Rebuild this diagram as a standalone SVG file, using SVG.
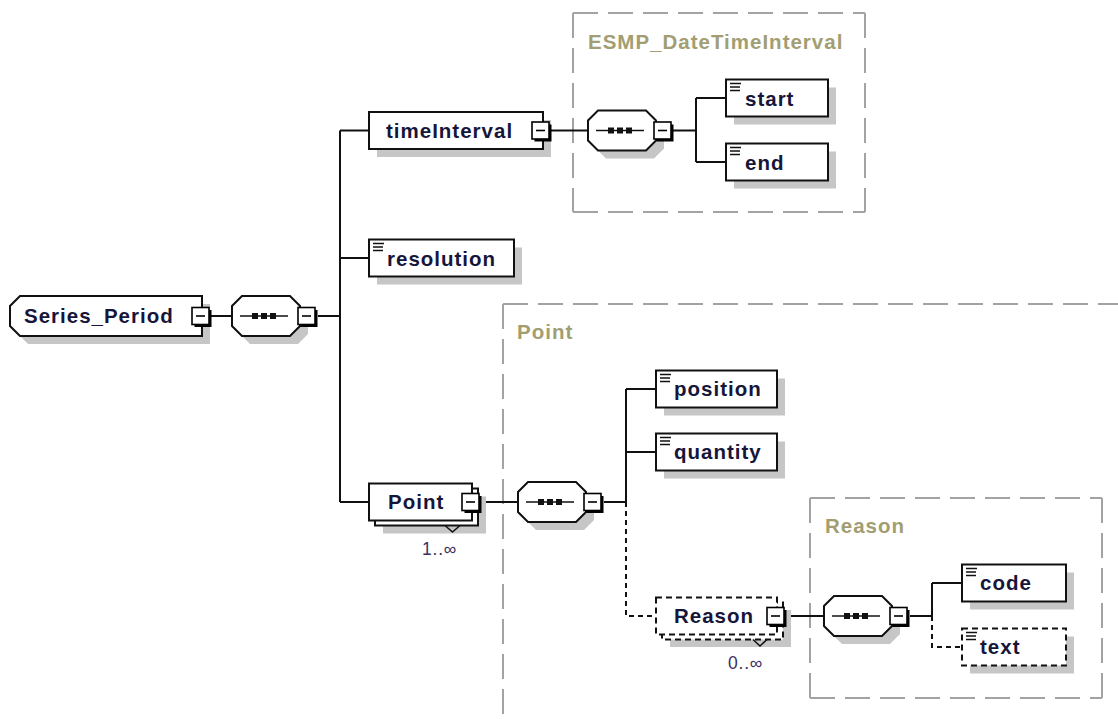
<svg xmlns="http://www.w3.org/2000/svg" width="1118" height="719" viewBox="0 0 1118 719">
<style>
 text{font-family:"Liberation Sans",Arial,Helvetica,sans-serif}
 .nm{font-size:20.5px;font-weight:bold;letter-spacing:1px;fill:#16163a}
 .ttl{font-size:20.5px;font-weight:bold;letter-spacing:1px;fill:#a29e72}
 .occ{font-size:17.5px;letter-spacing:0.8px;fill:#3b3062}
 .bx{fill:#fff;stroke:#111;stroke-width:2}
 .dsh{stroke-dasharray:6 4}
 .sh{fill:#c6c6c6}
 .w{fill:none;stroke:#111;stroke-width:2}
 .wd{fill:none;stroke:#111;stroke-width:2;stroke-dasharray:5 4}
 .frm{fill:none;stroke:#a3a3a3;stroke-width:2;stroke-dasharray:25 10}
 .ico{fill:none;stroke:#111;stroke-width:1.6}
 .notch{fill:none;stroke:#111;stroke-width:1.5}
</style>
<defs>
 <!-- collapse (minus) button -->
 <g id="minus">
  <rect x="2.5" y="2.5" width="17" height="17" fill="#000"/>
  <rect x="0" y="0" width="17" height="17" fill="#fff" stroke="#000" stroke-width="1.6"/>
  <line x1="4" y1="8.5" x2="13" y2="8.5" stroke="#000" stroke-width="1.6"/>
 </g>
 <!-- sequence compositor -->
 <g id="seq">
  <polygon class="sh" points="18,8 66,8 76,18 76,38 66,48 18,48 8,38 8,18"/>
  <polygon class="bx" points="10,0 58,0 68,10 68,30 58,40 10,40 0,30 0,10"/>
  <line x1="8" y1="20" x2="56" y2="20" stroke="#111" stroke-width="1.6"/>
  <rect x="20" y="17" width="6" height="6" fill="#111"/>
  <rect x="29" y="17" width="6" height="6" fill="#111"/>
  <rect x="38" y="17" width="6" height="6" fill="#111"/>
  <use href="#minus" x="66" y="11.5"/>
 </g>
 <!-- simple-content marker -->
 <path id="ico" class="ico" d="M4,4H15M4,7.5H14M4,11H14"/>
</defs>

<!-- type frames -->
<g id="frames">
 <line class="frm" x1="573" y1="13" x2="865" y2="13"/>
 <line class="frm" x1="865" y1="13" x2="865" y2="212"/>
 <line class="frm" x1="573" y1="212" x2="865" y2="212"/>
 <line class="frm" x1="573" y1="13" x2="573" y2="212"/>
 <text class="ttl" x="588" y="49">ESMP_DateTimeInterval</text>

 <line class="frm" x1="503" y1="304" x2="1118" y2="304"/>
 <line class="frm" x1="503" y1="304" x2="503" y2="719"/>
 <text class="ttl" x="517" y="339">Point</text>

 <line class="frm" x1="810" y1="498" x2="1102" y2="498"/>
 <line class="frm" x1="1102" y1="498" x2="1102" y2="698"/>
 <line class="frm" x1="810" y1="698" x2="1102" y2="698"/>
 <line class="frm" x1="810" y1="498" x2="810" y2="698"/>
 <text class="ttl" x="825" y="533">Reason</text>
</g>

<!-- connectors -->
<g id="connectors">
 <path class="w" d="M211,316H232M318,316H340M340,130.5V502M340,130.5H369M340,258H369M340,502H369"/>
 <path class="w" d="M551,130.5H588M673,130.5H696M696,98V162M696,98H726M696,162H726"/>
 <path class="w" d="M481,502H518M604,502H626M626,389V502M626,389H656M626,452H656"/>
 <path class="wd" d="M626,502V616H656"/>
 <path class="w" d="M786,616H824M910,616H932M932,583V616M932,583H962"/>
 <path class="wd" d="M932,616V647H962"/>
</g>

<!-- nodes -->
<g id="node-series-period">
 <polygon class="sh" points="28,304 210,304 210,344 28,344 18,334 18,314"/>
 <polygon class="bx" points="20,296 202,296 202,336 20,336 10,326 10,306"/>
 <text class="nm" x="24" y="323">Series_Period</text>
 <use href="#minus" x="192" y="307.5"/>
</g>
<g id="seq-series-period"><use href="#seq" x="232" y="296"/></g>

<g id="node-timeInterval">
 <rect class="sh" x="377" y="120" width="174" height="37"/>
 <rect class="bx" x="369" y="112" width="174" height="37"/>
 <text class="nm" x="386" y="138">timeInterval</text>
 <use href="#minus" x="532" y="122"/>
</g>
<g id="seq-timeInterval"><use href="#seq" x="588" y="110.5"/></g>

<g id="node-start">
 <rect class="sh" x="734" y="87.5" width="102" height="37"/>
 <rect class="bx" x="726" y="79.5" width="102" height="37"/>
 <use href="#ico" x="726" y="79.5"/>
 <text class="nm" x="745" y="105.5">start</text>
</g>
<g id="node-end">
 <rect class="sh" x="734" y="151.5" width="102" height="37"/>
 <rect class="bx" x="726" y="143.5" width="102" height="37"/>
 <use href="#ico" x="726" y="143.5"/>
 <text class="nm" x="745" y="169.5">end</text>
</g>

<g id="node-resolution">
 <rect class="sh" x="377" y="247.5" width="145" height="37"/>
 <rect class="bx" x="369" y="239.5" width="145" height="37"/>
 <use href="#ico" x="369" y="239.5"/>
 <text class="nm" x="387" y="265.5">resolution</text>
</g>

<g id="node-Point">
 <rect class="sh" x="383" y="496.5" width="103" height="37"/>
 <rect class="bx" x="375" y="488.5" width="103" height="37"/>
 <polyline class="notch" points="445,525.5 452.5,532 460,525.5"/>
 <rect class="bx" x="369" y="483.5" width="103" height="37"/>
 <text class="nm" x="388" y="509">Point</text>
 <use href="#minus" x="462" y="493.5"/>
 <text class="occ" x="422" y="555">1..∞</text>
</g>
<g id="seq-Point"><use href="#seq" x="518" y="482"/></g>

<g id="node-position">
 <rect class="sh" x="664" y="378.5" width="121" height="37"/>
 <rect class="bx" x="656" y="370.5" width="121" height="37"/>
 <use href="#ico" x="656" y="370.5"/>
 <text class="nm" x="674" y="396">position</text>
</g>
<g id="node-quantity">
 <rect class="sh" x="664" y="441.5" width="121" height="37"/>
 <rect class="bx" x="656" y="433.5" width="121" height="37"/>
 <use href="#ico" x="656" y="433.5"/>
 <text class="nm" x="674" y="459">quantity</text>
</g>

<g id="node-Reason">
 <rect class="sh" x="670" y="610" width="121" height="37"/>
 <rect class="bx dsh" x="662" y="602.5" width="121" height="37"/>
 <polyline class="notch" points="753,639.5 760,646 767,639.5"/>
 <rect class="bx dsh" x="656" y="597.5" width="121" height="37"/>
 <text class="nm" x="674" y="623">Reason</text>
 <use href="#minus" x="767" y="607.5"/>
 <text class="occ" x="728" y="669">0..∞</text>
</g>
<g id="seq-Reason"><use href="#seq" x="824" y="596"/></g>

<g id="node-code">
 <rect class="sh" x="970" y="572.5" width="104" height="37"/>
 <rect class="bx" x="962" y="564.5" width="104" height="37"/>
 <use href="#ico" x="962" y="564.5"/>
 <text class="nm" x="980" y="590">code</text>
</g>
<g id="node-text">
 <rect class="sh" x="970" y="636.5" width="104" height="37"/>
 <rect class="bx dsh" x="962" y="628.5" width="104" height="37"/>
 <use href="#ico" x="962" y="628.5"/>
 <text class="nm" x="980" y="654">text</text>
</g>
</svg>
